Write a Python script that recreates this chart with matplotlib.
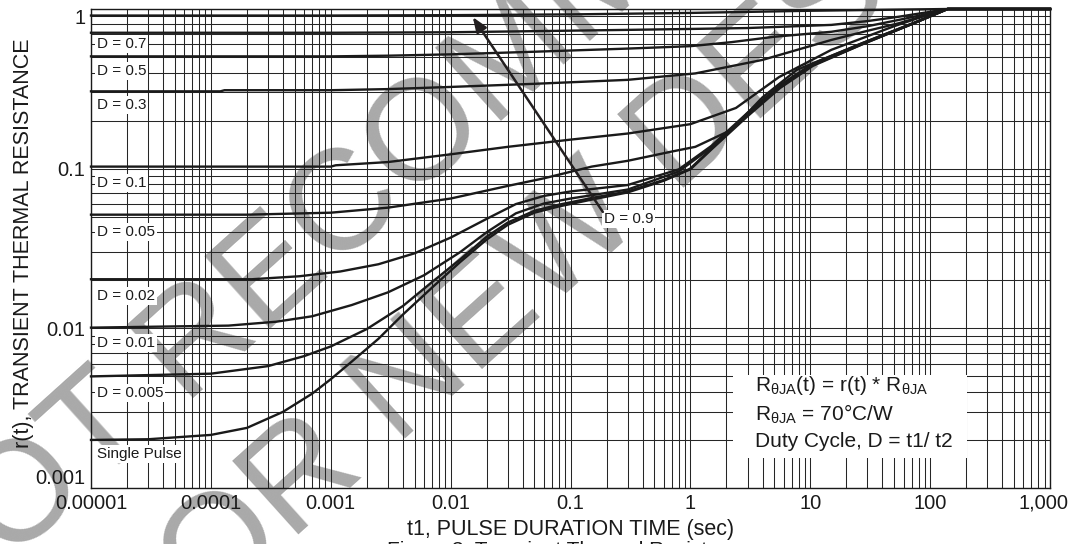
import numpy as np
import matplotlib
matplotlib.use("Agg")
import matplotlib.pyplot as plt
import matplotlib.transforms as mtransforms
from matplotlib.ticker import FixedLocator, LogLocator, NullFormatter
from matplotlib.patches import Rectangle
from matplotlib.font_manager import FontProperties

plt.rcParams["font.family"] = ["Liberation Sans", "DejaVu Sans"]
plt.rcParams["mathtext.fontset"] = "custom"
plt.rcParams["mathtext.rm"] = "Liberation Sans"
plt.rcParams["mathtext.it"] = "Liberation Sans:italic"

# ---- transient thermal resistance curves: pulse width t1 (s) vs r(t) ----
t_d90 = [1e-5, 1e-3, 0.01, 0.1, 1, 10, 50, 140, 1000]
r_d90 = [0.91, 0.91, 0.915, 0.925, 0.945, 0.975, 0.99, 1.0, 1.0]

t_d70 = [1e-5, 1e-3, 0.01, 0.04, 0.3, 1, 3, 15, 30, 55, 100, 140, 1000]
r_d70 = [0.71, 0.71, 0.715, 0.725, 0.74, 0.75, 0.76, 0.795, 0.84, 0.895, 0.96, 1.0, 1.0]

t_d50 = [1e-5, 1e-3, 3e-3, 0.01, 0.05, 0.3, 1, 2.2, 5, 15, 30, 55, 100, 140, 1000]
r_d50 = [0.505, 0.505, 0.51, 0.52, 0.54, 0.565, 0.585, 0.62, 0.67, 0.72, 0.78, 0.855, 0.94, 1.0, 1.0]

t_d30 = [1e-5, 1.2e-4, 1.3e-4, 1e-3, 3e-3, 0.01, 0.05, 0.3, 1.1, 4, 15, 30, 55, 100, 140, 1000]
r_d30 = [0.305, 0.305, 0.31, 0.31, 0.315, 0.325, 0.34, 0.36, 0.395, 0.48, 0.64, 0.73, 0.815, 0.93, 1.0, 1.0]

t_d10 = [1e-5, 1e-3, 1.1e-3, 3e-3, 0.01, 0.03, 0.1, 0.3, 1, 2.4, 5.5, 15, 50, 100, 140, 1000]
r_d10 = [0.103, 0.103, 0.105, 0.11, 0.123, 0.137, 0.152, 0.166, 0.19, 0.24, 0.375, 0.555, 0.78, 0.93, 1.0, 1.0]

t_d05 = [1e-5, 2e-4, 1e-3, 3e-3, 0.01, 0.03, 0.06, 0.15, 0.3, 0.7, 1.1, 2.2, 4, 7.7, 27, 72, 140, 1000]
r_d05 = [0.0515, 0.0515, 0.053, 0.057, 0.065, 0.078, 0.087, 0.103, 0.112, 0.128, 0.137, 0.175, 0.28, 0.415, 0.61, 0.815, 1.0, 1.0]

t_d02 = [1e-5, 2.2e-4, 5.5e-4, 1.2e-3, 2.5e-3, 5e-3, 0.01, 0.02, 0.035, 0.06, 0.1, 0.3, 0.8,
         1.5, 3, 5.6, 10.5, 27, 72, 140, 1000]
r_d02 = [0.0203, 0.0203, 0.0212, 0.0227, 0.0252, 0.0295, 0.037, 0.0485, 0.06, 0.0675, 0.072, 0.079, 0.099,
         0.139, 0.224, 0.334, 0.455, 0.61, 0.815, 1.0, 1.0]

t_d01 = [1e-5, 1.4e-4, 3.5e-4, 7e-4, 1.5e-3, 3e-3, 6e-3, 0.012, 0.02, 0.035, 0.06, 0.1, 0.3, 0.8,
         1.5, 3, 5.6, 10.5, 27, 72, 140, 1000]
r_d01 = [0.0101, 0.0104, 0.011, 0.0119, 0.014, 0.0168, 0.0215, 0.03, 0.04, 0.0525, 0.0605, 0.065, 0.074, 0.096,
         0.136, 0.219, 0.329, 0.45, 0.605, 0.81, 1.0, 1.0]

t_d005 = [1e-5, 1e-4, 3e-4, 6e-4, 1e-3, 2e-3, 4e-3, 7e-3, 0.012, 0.02, 0.03, 0.05, 0.08, 0.15, 0.3, 0.6,
          1, 1.5, 3, 5.6, 10.5, 27, 72, 140, 1000]
r_d005 = [0.005, 0.0052, 0.0058, 0.0067, 0.0077, 0.0099, 0.0138, 0.0195, 0.027, 0.0375, 0.046, 0.0545, 0.0595, 0.0655, 0.072, 0.085,
          0.1, 0.134, 0.216, 0.325, 0.445, 0.6, 0.81, 1.0, 1.0]

t_single = [1e-5, 3e-5, 1e-4, 2e-4, 4e-4, 7e-4, 1e-3, 1.5e-3, 2.5e-3, 4e-3, 7e-3, 0.012, 0.02, 0.03, 0.05, 0.08, 0.15, 0.3, 0.6,
            1, 1.5, 3, 5.6, 10.5, 27, 72, 140, 1000]
r_single = [0.002, 0.00202, 0.00215, 0.00238, 0.003, 0.0039, 0.0048, 0.0062, 0.0086, 0.0122, 0.018, 0.026, 0.036, 0.0445, 0.053, 0.058, 0.064, 0.071, 0.084,
            0.099, 0.132, 0.213, 0.32, 0.44, 0.6, 0.81, 1.0, 1.0]

curve_names = ["D = 0.7", "D = 0.5", "D = 0.3", "D = 0.1", "D = 0.05",
               "D = 0.02", "D = 0.01", "D = 0.005", "Single Pulse"]

x_ticks = [1e-5, 1e-4, 1e-3, 1e-2, 1e-1, 1, 10, 100, 1000]
x_tick_labels = ["0.00001", "0.0001", "0.001", "0.01", "0.1", "1", "10", "100", "1,000"]
y_ticks = [0.001, 0.01, 0.1, 1]
y_tick_labels = ["0.001", "0.01", "0.1", "1"]

INK = "#1a1a1a"
W, H = 1071, 544

fig = plt.figure(figsize=(W / 100, H / 100), dpi=100)
ax = fig.add_axes([91 / W, 56 / H, 959 / W, 479 / H])
ax.set_facecolor("none")
ax.set_xscale("log")
ax.set_yscale("log")
ax.set_xlim(1e-5, 1e3)
ax.set_ylim(1e-3, 1)

ax.xaxis.set_major_locator(FixedLocator(x_ticks))
ax.xaxis.set_minor_locator(LogLocator(base=10, subs=np.arange(2, 10) * 1.0, numticks=100))
ax.yaxis.set_major_locator(FixedLocator(y_ticks))
ax.yaxis.set_minor_locator(LogLocator(base=10, subs=np.arange(2, 10) * 1.0, numticks=100))
ax.set_xticklabels(x_tick_labels)
ax.set_yticklabels(y_tick_labels)
ax.xaxis.set_minor_formatter(NullFormatter())
ax.yaxis.set_minor_formatter(NullFormatter())
ax.tick_params(which="both", length=0, labelsize=14.5, colors=INK, pad=4)
ax.grid(which="both", color="#262626", lw=0.75, zorder=1)
ax.set_axisbelow(True)
for s in ax.spines.values():
    s.set_color(INK)
    s.set_linewidth(1.0)

ylabels = ax.get_yticklabels()
ylabels[0].set_va("bottom")
ylabels[-1].set_va("top")
# keep the right-most x label inside the canvas
last_tick = ax.xaxis.get_major_ticks()[-1]
last_tick.label1.set_transform(last_tick.label1.get_transform() +
                               mtransforms.ScaledTranslation(-6 / 100, 0, fig.dpi_scale_trans))

# curves
for t, r in [(t_d90, r_d90), (t_d70, r_d70), (t_d50, r_d50), (t_d30, r_d30),
             (t_d10, r_d10), (t_d05, r_d05), (t_d02, r_d02), (t_d01, r_d01),
             (t_d005, r_d005), (t_single, r_single)]:
    ax.plot(t, r, color=INK, lw=1.7, zorder=3, clip_on=False, solid_joinstyle="round")

# curve labels at the left edge
label_y = [0.604, 0.409, 0.250, 0.0813, 0.0401, 0.0159, 0.00808, 0.00394, 0.00163]
for name, yv in zip(curve_names, label_y):
    ax.text(1.12e-5, yv, name, fontsize=11, color=INK, ha="left", va="center", zorder=5,
            bbox=dict(facecolor="white", edgecolor="none", pad=1.2))

# duty-cycle arrow
ax.annotate("", xy=(0.0153, 0.89), xytext=(0.186, 0.0536),
            arrowprops=dict(arrowstyle="-|>,head_length=0.9,head_width=0.35",
                            color="#231f20", lw=1.8, shrinkA=0, shrinkB=0), zorder=6)
ax.text(0.19, 0.0484, "D = 0.9", fontsize=11, color=INK, ha="left", va="center", zorder=5,
        bbox=dict(facecolor="white", edgecolor="none", pad=1.2))

# equation box
ax.add_patch(Rectangle((0.6694, 0.0626), 0.2441, 0.1733, transform=ax.transAxes,
                       facecolor="white", edgecolor="none", zorder=4))
box_lines = [r"R$_{\mathregular{θJA}}$(t) = r(t) * R$_{\mathregular{θJA}}$",
             r"R$_{\mathregular{θJA}}$ = 70°C/W",
             "Duty Cycle, D = t1/ t2"]
for txt, yy in zip(box_lines, [0.213, 0.153, 0.097]):
    ax.text(0.6924, yy, txt, transform=ax.transAxes, fontsize=15, color=INK,
            ha="left", va="center", zorder=5)

ax.set_xlabel("t1, PULSE DURATION TIME (sec)", fontsize=15.5, color=INK)
ax.xaxis.set_label_coords(0.5, -0.0981)
ax.xaxis.label.set_va("baseline")
ax.set_ylabel("r(t), TRANSIENT THERMAL RESISTANCE", fontsize=15.5, color=INK)
ax.yaxis.set_label_coords(-0.0699, 0.51)
ax.yaxis.label.set_va("center")

fig.text(570 / W, 1 - 556 / H, "Figure 3. Transient Thermal Resistance",
         ha="center", va="baseline", fontsize=15, color=INK)

# ---- watermark, laid out along a 42 degree baseline, behind the grid ----
renderer = fig.canvas.get_renderer()
ang = np.radians(42.0)
dvec = np.array([np.cos(ang), np.sin(ang)])
nvec = np.array([-np.sin(ang), np.cos(ang)])


def ink_width(s, fp):
    return renderer.get_text_width_height_descent(s, fp, ismath=False)[0]


def char_center(s, k, fp):
    return ink_width(s[:k + 1], fp) - ink_width(s[k], fp) / 2


# (text, index of first guide letter, its centre px, index of second guide letter, its centre px)
marks = [("NOT RECOMMENDED", 4, (185, 336), 7, (425, 128)),
         ("FOR NEW DESIGN", 5, (483, 308), 8, (675, 125))]
ref_fp = FontProperties(family="Liberation Sans", size=100)
ratios = []
for s, k1, p1, k2, p2 in marks:
    dist_px = np.hypot(p2[0] - p1[0], p2[1] - p1[1])
    ratios.append(dist_px / (char_center(s, k2, ref_fp) - char_center(s, k1, ref_fp)))
wm_size = 100 * float(np.mean(ratios))
wm_fp = FontProperties(family="Liberation Sans", size=wm_size)
cap_h = renderer.get_text_width_height_descent("N", wm_fp, ismath=False)[1]
for s, k1, p1, k2, p2 in marks:
    u = (char_center(s, k1, wm_fp) + char_center(s, k2, wm_fp)) / 2
    mid = np.array([(p1[0] + p2[0]) / 2, H - (p1[1] + p2[1]) / 2])
    start = mid - u * dvec - (cap_h / 2) * nvec
    fig.text(start[0] / W, start[1] / H, s, fontproperties=wm_fp, rotation=42,
             rotation_mode="anchor", ha="left", va="baseline", color="#a9a9a9", zorder=-1)

fig.savefig("out.png", dpi=100)
